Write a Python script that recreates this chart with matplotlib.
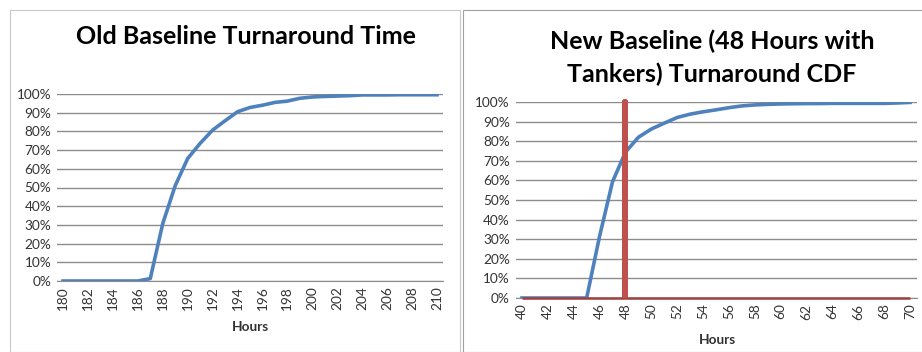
import numpy as np
import matplotlib.pyplot as plt
from matplotlib.patches import Rectangle
from matplotlib.ticker import PercentFormatter

# old baseline: hours 180..210, cumulative share in %
old_hours = list(range(180, 211))
old_cdf = [0, 0, 0, 0, 0, 0, 0, 1.3, 30.7, 51, 65.5, 73.6, 80.7, 85.7, 90.5,
           92.8, 94, 95.5, 96.2, 97.7, 98.4, 98.7, 98.9, 99.1, 99.5, 99.5,
           99.5, 99.6, 99.6, 99.6, 99.6]

# new baseline (48 h with tankers): hours 40..70
new_hours = list(range(40, 71))
new_cdf = [0, 0, 0, 0, 0, 0, 31.5, 59.3, 74.4, 82, 86.2, 89.2, 92.1, 93.8,
           95, 96, 97.1, 98, 98.5, 98.8, 99, 99.1, 99.2, 99.2, 99.3, 99.3,
           99.3, 99.3, 99.3, 99.5, 99.8]

# 48 hour target marker
target_x = [40, 48, 48, 48, 70]
target_y = [0, 0, 100, 0, 0]

blue = '#4F81BD'
red = '#C0504D'
grid_c = '#8C8C8C'
txt_c = '#333333'
font = 'Lato'

fig = plt.figure(figsize=(9.22, 3.52), dpi=100)
W, H = 922, 352


def setup(ax, hours):
    ax.set_xlim(hours[0] - 0.5, hours[-1] + 0.5)
    ax.set_ylim(0, 100)
    ax.set_yticks(range(0, 101, 10))
    ax.yaxis.set_major_formatter(PercentFormatter(decimals=0))
    ax.set_xticks(hours[::2])
    ax.grid(axis='y', color=grid_c, lw=1)
    ax.set_axisbelow(True)
    for s in ['top', 'right', 'left']:
        ax.spines[s].set_visible(False)
    ax.spines['bottom'].set_color(grid_c)
    ax.tick_params(length=0, labelsize=9.8, colors=txt_c, pad=4)
    ax.tick_params(axis='x', labelrotation=90)
    for lab in ax.get_xticklabels() + ax.get_yticklabels():
        lab.set_fontfamily(font)


# left chart
ax1 = fig.add_axes([56.8 / W, 1 - 281 / H, 386.4 / W, 187 / H])
setup(ax1, old_hours)
ax1.plot(old_hours, old_cdf, color=blue, lw=2.6, solid_joinstyle='round', zorder=3)
fig.text(246 / W, 1 - 37 / H, 'Old Baseline Turnaround Time', ha='center',
         va='center', fontsize=18, fontweight='bold', family=font)
fig.text(250 / W, 1 - 327 / H, 'Hours', ha='center', va='center',
         fontsize=9.8, fontweight='bold', family=font, color=txt_c)

# right chart
ax2 = fig.add_axes([515.5 / W, 1 - 298 / H, 401 / W, 196 / H])
setup(ax2, new_hours)
ax2.plot(new_hours, new_cdf, color=blue, lw=2.6, solid_joinstyle='round', zorder=3)
ax2.plot(target_x[:2], target_y[:2], color='#A0403D', lw=1.8, zorder=4,
         clip_on=False, solid_capstyle='butt')
ax2.plot(target_x[3:], target_y[3:], color='#A0403D', lw=1.8, zorder=4,
         clip_on=False, solid_capstyle='butt')
ax2.plot(target_x[1:4], target_y[1:4], color=red, lw=4.2, zorder=4,
         clip_on=False, solid_capstyle='butt')
fig.text(712 / W, 1 - 57.5 / H, 'New Baseline (48 Hours with\nTankers) Turnaround CDF',
         ha='center', va='center', fontsize=18, fontweight='bold', family=font,
         linespacing=1.5)
fig.text(717 / W, 1 - 340 / H, 'Hours', ha='center', va='center',
         fontsize=9.8, fontweight='bold', family=font, color=txt_c)

# panel frames
fig.patches.append(Rectangle((10 / W, 0), 450 / W, 1 - 10 / H, transform=fig.transFigure,
                             fill=False, ec='#C8C8C8', lw=0.8))
fig.patches.append(Rectangle((463 / W, 0), 470 / W, 1 - 10 / H, transform=fig.transFigure,
                             fill=False, ec='#A0A0A0', lw=0.8))

fig.savefig('out.png', dpi=100)
